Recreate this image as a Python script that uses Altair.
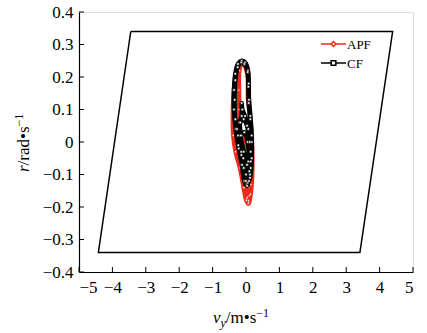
import altair as alt
import pandas as pd

# ---------------- data ----------------
series_names = ["APF", "CF"]
series_colors = ["#ee2a1b", "#000000"]
series_shapes = ["diamond", "square"]

apf_vy = [0.07, 0.15, 0.18, 0.16, 0.10, 0.07, 0.06, -0.02, -0.12, -0.20, -0.21, -0.20, -0.18, -0.14, -0.08, -0.04, 0.02,
          0.10, 0.17, 0.18, 0.12, 0.06, 0.05, -0.04, -0.15, -0.26, -0.35, -0.39, -0.38, -0.31, -0.18, -0.07, 0.01, 0.07,
          0.14, 0.19, 0.17, 0.10, 0.02, -0.06, -0.03, 0.04, 0.08]
apf_r = [-0.18, -0.13, -0.05, 0.03, 0.10, 0.16, 0.21, 0.24, 0.245, 0.22, 0.16, 0.10, 0.04, -0.02, -0.08, -0.14, -0.175,
         -0.165, -0.09, 0.00, 0.08, 0.14, 0.20, 0.235, 0.24, 0.22, 0.17, 0.10, 0.02, -0.03, -0.08, -0.14, -0.18, -0.19,
         -0.16, -0.08, 0.00, 0.04, 0.02, -0.05, -0.12, -0.17, -0.185]

cf_vy = [0.02, 0.12, 0.17, 0.17, 0.13, 0.09, 0.08, 0.06, -0.03, -0.13, -0.24, -0.32, -0.36, -0.36, -0.31, -0.22, -0.12, -0.05,
         0.03, 0.12, 0.14, 0.07, -0.03, -0.11, -0.13, -0.13, -0.20, -0.27, -0.23, -0.14, -0.06, 0.00, 0.07, 0.05, -0.05, -0.13, -0.08,
         0.05, 0.14, 0.17, 0.13, 0.08, 0.07, 0.05, -0.05, -0.14, -0.25, -0.32, -0.34, -0.32, -0.24, -0.14, -0.07, 0.00,
         0.09, 0.14, 0.11, 0.03, -0.07, -0.17, -0.16, -0.07, 0.03, 0.10]
cf_r = [-0.13, -0.11, -0.05, 0.02, 0.08, 0.13, 0.18, 0.22, 0.245, 0.25, 0.24, 0.21, 0.16, 0.10, 0.04, -0.02, -0.07, -0.12,
        -0.135, -0.10, -0.03, 0.04, 0.08, 0.10, 0.12, 0.08, 0.06, 0.04, -0.01, -0.04, -0.08, -0.10, -0.06, 0.00, 0.03, 0.02, -0.05,
        -0.125, -0.08, 0.00, 0.07, 0.12, 0.17, 0.215, 0.24, 0.245, 0.23, 0.19, 0.13, 0.07, 0.02, -0.03, -0.08, -0.12,
        -0.12, -0.06, 0.00, 0.05, 0.07, 0.06, 0.02, -0.03, -0.07, -0.09]

par_vy = [-3.45, 4.39, 3.41, -4.42, -3.45]
par_r = [0.34, 0.34, -0.34, -0.34, 0.34]

x_ticks = [-5, -4, -3, -2, -1, 0, 1, 2, 3, 4, 5]
y_ticks = [-0.4, -0.3, -0.2, -0.1, 0, 0.1, 0.2, 0.3, 0.4]

# ---------------- layout ----------------
W, H = 334, 260
FONT = "Liberation Serif"
xs = alt.Scale(domain=[-5, 5], nice=False, zero=False)
ys = alt.Scale(domain=[-0.4, 0.4], nice=False, zero=False)

par_df = pd.DataFrame({"vy": par_vy, "r": par_r, "i": range(len(par_vy))})
apf_df = pd.DataFrame({"vy": apf_vy, "r": apf_r, "i": range(len(apf_vy))})
cf_df = pd.DataFrame({"vy": cf_vy, "r": cf_r, "i": range(len(cf_vy))})
xt_df = pd.DataFrame({"vy": x_ticks})
yt_df = pd.DataFrame({"r": y_ticks})

xaxis = alt.Axis(values=x_ticks, format="~g", title=None, ticks=False, grid=False,
                 domainColor="black", domainWidth=1.2, labelFont=FONT, labelFontSize=17,
                 labelColor="black", labelPadding=7)
yaxis = alt.Axis(values=y_ticks, format="~g", title=None, ticks=False, grid=False,
                 domainColor="black", domainWidth=1.2, labelFont=FONT, labelFontSize=17,
                 labelColor="black", labelPadding=6)
X = alt.X("vy:Q", scale=xs, axis=xaxis)
Y = alt.Y("r:Q", scale=ys, axis=yaxis)

par = alt.Chart(par_df).mark_line(color="black", strokeWidth=1.5).encode(x=X, y=Y, order="i:Q")

xt = alt.Chart(xt_df).mark_rule(color="black", strokeWidth=1).encode(
    x=X, y=alt.value(H), y2=alt.value(H - 5))
yt = alt.Chart(yt_df).mark_rule(color="black", strokeWidth=1).encode(
    y=Y, x=alt.value(0), x2=alt.value(5))


def series_layers(df, color, shape):
    line = alt.Chart(df).mark_line(color=color, strokeWidth=4.5, interpolate="catmull-rom").encode(
        x=X, y=Y, order="i:Q")
    pts = alt.Chart(df).mark_point(shape=shape, filled=True, fill="white", stroke=color,
                                   strokeWidth=0.6, size=6, opacity=1).encode(x=X, y=Y)
    return [line, pts]


layers = [par, xt, yt]
layers += series_layers(apf_df, series_colors[0], series_shapes[0])
layers += series_layers(cf_df, series_colors[1], series_shapes[1])

# legend
for k, name in enumerate(series_names):
    yy = 32 + 19 * k
    ldf = pd.DataFrame({"name": [name]})
    layers.append(alt.Chart(ldf).mark_rule(color=series_colors[k], strokeWidth=1.5).encode(
        x=alt.value(242), x2=alt.value(267), y=alt.value(yy)))
    layers.append(alt.Chart(ldf).mark_point(shape=series_shapes[k], filled=True, fill="white",
                                            stroke=series_colors[k], strokeWidth=1.5, size=22, opacity=1).encode(
        x=alt.value(254.5), y=alt.value(yy)))
    layers.append(alt.Chart(ldf).mark_text(font=FONT, fontSize=13, align="left", baseline="middle",
                                           color="black").encode(
        x=alt.value(268), y=alt.value(yy + 0.5), text="name:N"))


def txt(s, x, y, size=17, italic=False, angle=0):
    return alt.Chart(pd.DataFrame({"t": [s]})).mark_text(
        font=FONT, fontSize=size, fontStyle="italic" if italic else "normal",
        align="left", baseline="alphabetic", color="black", angle=angle).encode(
        x=alt.value(x), y=alt.value(y), text="t:N")


xb = 311
layers += [
    txt("v", 134, xb, italic=True),
    txt("y", 141.5, xb + 4, size=12, italic=True),
    txt("/m\u2022s", 146.8, xb),
    txt("\u22121", 177.2, xb - 6, size=12),
]
yb = -50
layers += [
    txt("r", yb, 160, italic=True, angle=270),
    txt("/rad\u2022s", yb, 153.4, angle=270),
    txt("\u22121", yb - 6, 114.4, size=12, angle=270),
]

chart = alt.layer(*layers).properties(
    width=W, height=H, autosize="none",
    padding={"left": 79, "top": 12, "right": 14, "bottom": 61},
).configure_view(stroke=None).configure(background="white")

chart.save("out.html", embed_options={"renderer": "svg", "actions": False})
